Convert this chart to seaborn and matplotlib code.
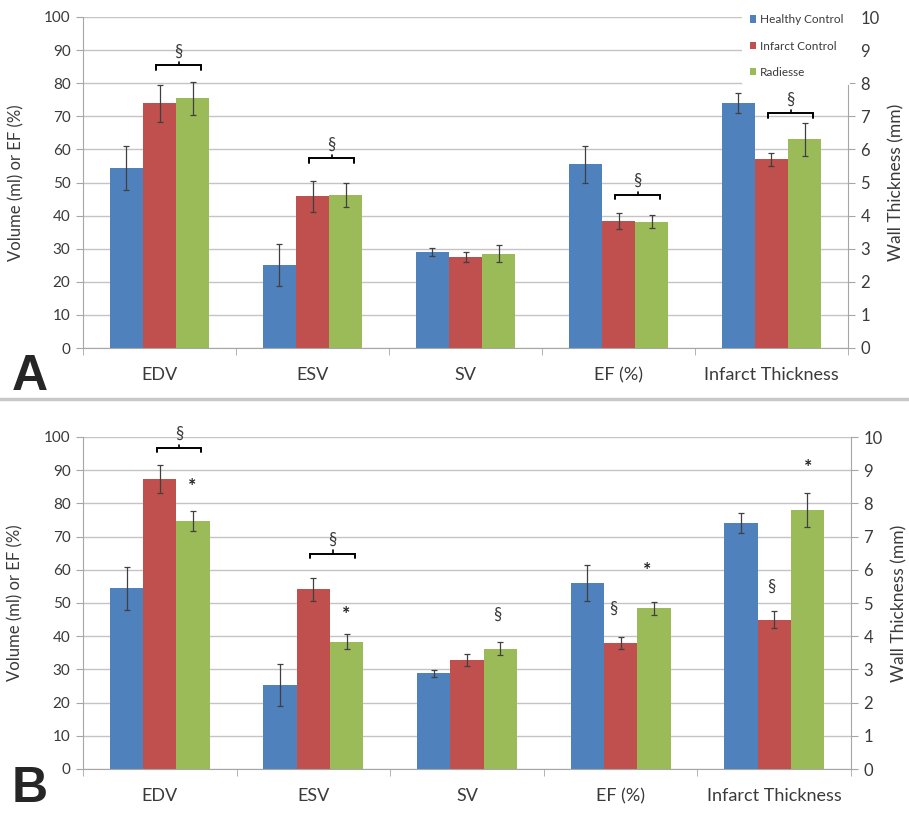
import matplotlib
matplotlib.use("Agg")
import matplotlib.pyplot as plt
from matplotlib.patches import Patch
from matplotlib.lines import Line2D
from matplotlib.ticker import FixedLocator, MultipleLocator
import numpy as np
import pandas as pd
import seaborn as sns

# Data
measures = ['EDV', 'ESV', 'SV', 'EF (%)', 'Infarct Thickness']
groups = ['Healthy Control', 'Infarct Control', 'Radiesse']
colors = ['#4F81BD', '#C0504D', '#9BBB59']

# Panel A (EDV..EF on left axis, Infarct Thickness in mm on right axis)
a_healthy = [54.3, 25.0, 29.0, 55.5, 7.4]
a_infarct = [73.9, 45.8, 27.5, 38.3, 5.7]
a_radiesse = [75.4, 46.3, 28.5, 38.2, 6.3]
a_healthy_err = [6.6, 6.3, 1.1, 5.5, 0.3]
a_infarct_err = [5.6, 4.8, 1.6, 2.4, 0.2]
a_radiesse_err = [5.0, 3.6, 2.5, 2.0, 0.5]

# Panel B
b_healthy = [54.4, 25.3, 28.8, 55.9, 7.4]
b_infarct = [87.3, 54.1, 32.9, 37.9, 4.5]
b_radiesse = [74.7, 38.4, 36.2, 48.4, 7.8]
b_healthy_err = [6.5, 6.3, 1.0, 5.4, 0.3]
b_infarct_err = [4.2, 3.5, 1.8, 1.8, 0.25]
b_radiesse_err = [3.1, 2.4, 2.0, 2.0, 0.5]

# significance marks: (category index, x offset from centre, y on left axis, text)
a_brackets = [(0, 85.4), (1, 57.3), (3, 46.2), (4, 70.9)]
a_marks = []
b_brackets = [(0, 96.7), (1, 64.9)]
b_marks = [(0, 0.21, 86.7, '*'), (1, 0.21, 48.0, '*'), (2, 0.2, 46.3, '§'),
           (3, -0.05, 48.4, '§'), (3, 0.17, 61.2, '*'),
           (4, -0.02, 54.9, '§'), (4, 0.22, 92.2, '*')]

sns.set_style('white')
plt.rcParams['font.family'] = ['Lato', 'DejaVu Sans']

grid_col = '#c4c4c4'
spine_col = '#a6a6a6'
text_col = '#3a3a3a'


def make_df(h, r, g, he, re_, ge):
    rows = []
    for grp, vals, errs in zip(groups, [h, r, g], [he, re_, ge]):
        for m, v, e in zip(measures, vals, errs):
            rows.append({'Measure': m, 'Group': grp, 'Value': v, 'Err': e})
    return pd.DataFrame(rows)


def draw_panel(ax, df, brackets, marks, legend):
    main = df[df['Measure'] != 'Infarct Thickness']
    thick = df[df['Measure'] == 'Infarct Thickness']

    sns.barplot(data=main, x='Measure', y='Value', hue='Group', order=measures,
                hue_order=groups, palette=colors, width=0.65, saturation=1,
                errorbar=None, legend=False, ax=ax, zorder=2, linewidth=0)
    ax2 = ax.twinx()
    sns.barplot(data=thick, x='Measure', y='Value', hue='Group', order=measures,
                hue_order=groups, palette=colors, width=0.65, saturation=1,
                errorbar=None, legend=False, ax=ax2, zorder=2, linewidth=0)

    for a, d in [(ax, main), (ax2, thick)]:
        for grp, cont in zip(groups, a.containers):
            for bar in cont:
                h = bar.get_height()
                if np.isnan(h) or h == 0:
                    continue
                xc = bar.get_x() + bar.get_width() / 2
                m = measures[int(round(xc))]
                err = d[(d['Measure'] == m) & (d['Group'] == grp)]['Err'].iloc[0]
                a.errorbar(xc, h, yerr=err, fmt='none', ecolor='#404040',
                           elinewidth=0.9, capsize=2.5, capthick=0.9, zorder=3)

    ax.set_ylim(0, 100)
    ax2.set_ylim(0, 10)
    ax.set_xlim(-0.5, 4.5)
    ax.yaxis.set_major_locator(MultipleLocator(10))
    ax2.yaxis.set_major_locator(FixedLocator(np.arange(0, 11, 1.0)))
    ax.yaxis.grid(True, color=grid_col, lw=1.0)
    ax.set_axisbelow(True)

    ax.set_xlabel('')
    ax.set_ylabel('Volume (ml) or EF (%)', fontsize=12, color=text_col)
    ax.yaxis.set_label_coords(-0.077, 0.5)
    ax2.set_xlabel('')
    ax2.set_ylabel('Wall Thickness (mm)', fontsize=12.5, color=text_col)
    ax2.yaxis.set_label_coords(1.053, 0.5)

    ax.xaxis.set_minor_locator(FixedLocator(np.arange(-0.5, 5, 1.0)))
    ax.tick_params(axis='x', which='major', length=0, labelsize=13,
                   labelcolor=text_col, pad=14)
    ax.tick_params(axis='x', which='minor', length=5, color=spine_col,
                   direction='out', bottom=True)
    ax.tick_params(axis='y', length=5, color=spine_col, labelsize=11,
                   labelcolor=text_col, left=True, pad=4)
    ax2.tick_params(axis='y', length=5, color=spine_col, labelsize=12,
                    labelcolor=text_col, right=True, pad=4)

    for s in ['top', 'right']:
        ax.spines[s].set_visible(False)
    for s in ['top', 'left', 'bottom']:
        ax2.spines[s].set_visible(False)
    for s in ['left', 'bottom']:
        ax.spines[s].set_color(spine_col)
    ax2.spines['right'].set_color(spine_col)

    # brackets with section sign
    for c, y in brackets:
        x0, x1 = c - 0.02, c + 0.27
        ax.plot([x0, x0, x1, x1], [y - 1.3, y, y, y - 1.3], color='black',
                lw=1.4, zorder=4, clip_on=False, solid_joinstyle='miter')
        xm = (x0 + x1) / 2
        ax.plot([xm, xm], [y, y + 1.0], color='black', lw=1.2, zorder=4,
                clip_on=False)
        ax.text(xm, y + 1.8, '§', ha='center', va='bottom', fontsize=12,
                color=text_col, clip_on=False)
    for c, off, y, t in marks:
        if t == '*':
            ax.text(c + off, y - 1.5, t, ha='center', va='center', fontsize=14,
                    fontweight='bold', color='#222222')
        else:
            ax.text(c + off, y, t, ha='center', va='center', fontsize=12,
                    color=text_col)

    if legend:
        handles = [Patch(facecolor=col, edgecolor='none') for col in colors]
        leg = ax2.legend(handles, groups, loc='upper left',
                         bbox_to_anchor=(0.862, 1.03), frameon=True,
                         fontsize=8.5, handlelength=0.55, handleheight=0.55,
                         handletextpad=0.3, labelspacing=1.3, borderpad=0.6,
                         borderaxespad=0)
        leg.get_frame().set_facecolor('white')
        leg.get_frame().set_edgecolor('none')
        leg.get_frame().set_alpha(1)
        leg.set_zorder(10)
        for t in leg.get_texts():
            t.set_color(text_col)
        ax2.spines['right'].set_bounds(0, 8)
        for tk in ax2.yaxis.get_major_ticks()[9:]:
            tk.tick2line.set_visible(False)
    return ax2


fig = plt.figure(figsize=(9.09, 8.14), dpi=100)
axA = fig.add_axes([83 / 909, 1 - 348 / 814, 765 / 909, 331 / 814])
axB = fig.add_axes([83 / 909, 1 - 769 / 814, 768 / 909, 332 / 814])

dfA = make_df(a_healthy, a_infarct, a_radiesse, a_healthy_err, a_infarct_err, a_radiesse_err)
dfB = make_df(b_healthy, b_infarct, b_radiesse, b_healthy_err, b_infarct_err, b_radiesse_err)

draw_panel(axA, dfA, a_brackets, a_marks, legend=True)
draw_panel(axB, dfB, b_brackets, b_marks, legend=False)

fig.add_artist(Line2D([0, 1], [1 - 399 / 814] * 2, color='#c8c8c8', lw=2.5))
fig.text(0.013, 1 - 390 / 814, 'A', fontsize=36, fontweight='bold',
         family='Liberation Sans', va='baseline')
fig.text(0.013, 0.003, 'B', fontsize=36, fontweight='bold',
         family='Liberation Sans', va='bottom')

fig.savefig('out.png', dpi=100)
